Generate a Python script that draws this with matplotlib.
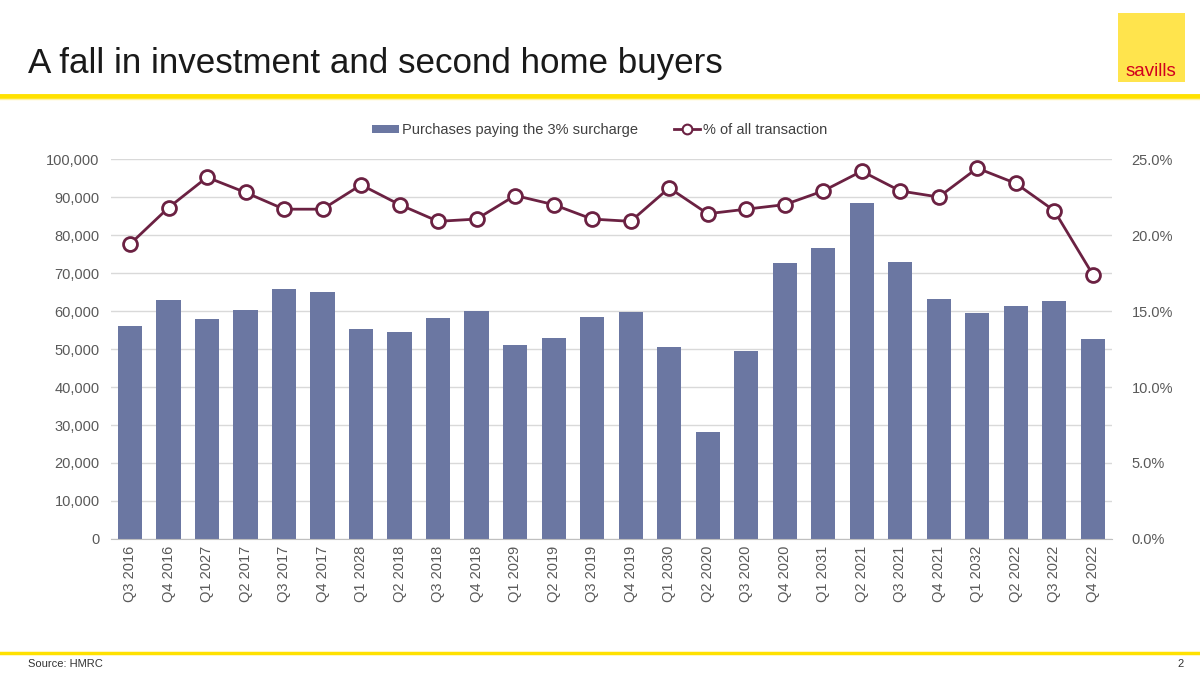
import matplotlib.pyplot as plt
from matplotlib.patches import Rectangle
from matplotlib.lines import Line2D
from matplotlib.ticker import FuncFormatter

plt.rcParams['font.family'] = ['Liberation Sans', 'DejaVu Sans']

# data
quarters = ['Q3 2016', 'Q4 2016', 'Q1 2027', 'Q2 2017', 'Q3 2017', 'Q4 2017',
            'Q1 2028', 'Q2 2018', 'Q3 2018', 'Q4 2018', 'Q1 2029', 'Q2 2019',
            'Q3 2019', 'Q4 2019', 'Q1 2030', 'Q2 2020', 'Q3 2020', 'Q4 2020',
            'Q1 2031', 'Q2 2021', 'Q3 2021', 'Q4 2021', 'Q1 2032', 'Q2 2022',
            'Q3 2022', 'Q4 2022']
purchases = [56100, 62900, 57900, 60300, 65800, 65000,
             55300, 54500, 58200, 60000, 51100, 52900,
             58400, 59700, 50500, 28200, 49500, 72600,
             76600, 88400, 72900, 63200, 59500, 61300,
             62600, 52600]
share_pct = [19.4, 21.8, 23.8, 22.8, 21.7, 21.7,
             23.3, 22.0, 20.9, 21.05, 22.6, 22.0,
             21.05, 20.9, 23.1, 21.4, 21.7, 22.0,
             22.9, 24.2, 22.9, 22.5, 24.4, 23.4,
             21.6, 17.4]

bar_color = '#6b77a2'
line_color = '#6b2142'
text_color = '#595959'
yellow = '#ffe100'

fig = plt.figure(figsize=(12, 6.75), dpi=100)

# header
fig.text(28 / 1200, 1 - 63 / 675, 'A fall in investment and second home buyers',
         fontsize=25.2, color='#1a1a1a', va='center', ha='left')
fig.add_artist(Line2D([0, 1], [1 - 96 / 675] * 2, color=yellow, lw=3.5))
fig.add_artist(Line2D([0, 1], [1 - 99 / 675] * 2, color='#fff3a0', lw=1))

# logo block
fig.add_artist(Rectangle((1118 / 1200, 1 - 82 / 675), 67 / 1200, 69 / 675,
                         facecolor='#ffe44d', edgecolor='none'))
fig.text(1151 / 1200, 1 - 71 / 675, 'savills', fontsize=13.5, color='#d2001e',
         ha='center', va='center')

# footer
fig.add_artist(Line2D([0, 1], [1 - 653 / 675] * 2, color=yellow, lw=2.5))
fig.text(28 / 1200, 1 - 664 / 675, 'Source: HMRC', fontsize=8, color='#333333',
         va='center')
fig.text(1184 / 1200, 1 - 664 / 675, '2', fontsize=8, color='#333333',
         va='center', ha='right')

ax = fig.add_axes([0.0923, 0.2015, 0.8344, 0.5629])
x = range(len(quarters))
bars = ax.bar(x, purchases, width=0.63, color=bar_color, zorder=2,
              label='Purchases paying the 3% surcharge')
ax.set_ylim(0, 100000)
ax.set_xlim(-0.5, len(quarters) - 0.5)
ax.set_yticks(range(0, 100001, 10000))
ax.yaxis.set_major_formatter(FuncFormatter(lambda v, p: f'{int(v):,}'))
ax.grid(axis='y', color='#d9d9d9', lw=1, zorder=0)
ax.set_xticks(list(x))
ax.set_xticklabels(quarters, rotation=90)
ax.tick_params(axis='both', length=0, labelsize=10.5, colors=text_color, pad=8)
ax.tick_params(axis='x', pad=5)
for s in ['top', 'right', 'left']:
    ax.spines[s].set_visible(False)
ax.spines['bottom'].set_color('#bfbfbf')

ax2 = ax.twinx()
line, = ax2.plot(x, share_pct, color=line_color, lw=2, marker='o', markersize=10,
                 markerfacecolor='white', markeredgecolor=line_color,
                 markeredgewidth=2, zorder=3, label='% of all transaction')
ax2.set_ylim(0, 25)
ax2.set_yticks([0, 5, 10, 15, 20, 25])
ax2.yaxis.set_major_formatter(FuncFormatter(lambda v, p: f'{v:.1f}%'))
ax2.tick_params(axis='y', length=0, labelsize=10.5, colors=text_color, pad=14)
for s in ax2.spines.values():
    s.set_visible(False)

legend_line = Line2D([], [], color=line_color, lw=2, marker='o', markersize=7,
                     markerfacecolor='white', markeredgecolor=line_color,
                     markeredgewidth=1.5)
fig.legend([bars, legend_line],
           ['Purchases paying the 3% surcharge', '% of all transaction'],
           loc='center', bbox_to_anchor=(0.5, 1 - 130 / 675), ncol=2,
           frameon=False, fontsize=10.5, labelcolor='#404040',
           handlelength=1.8, handleheight=0.5, handletextpad=0.2,
           columnspacing=2.5)

fig.savefig('out.png', dpi=100)
